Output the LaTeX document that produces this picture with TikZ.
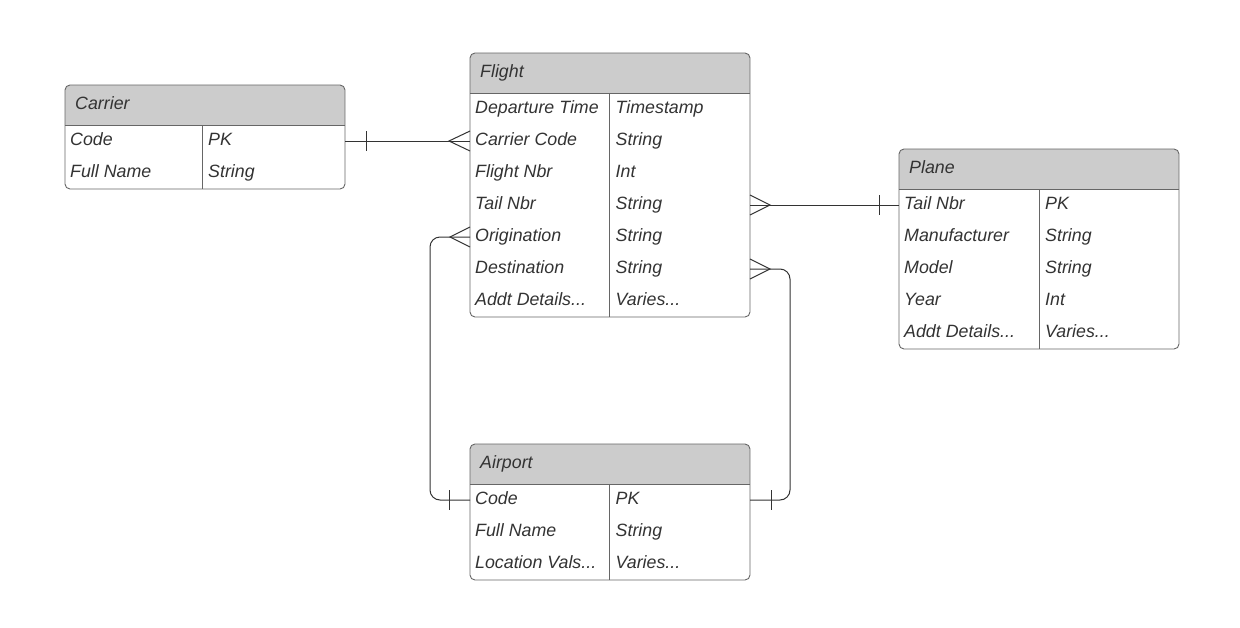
\documentclass[tikz,border=0pt]{standalone}
\usepackage{fontspec}
\setmainfont{Liberation Sans}
\tikzset{
  x=1pt, y=-1pt,
  boxline/.style={draw=black!60, line width=0.9pt},
  conn/.style={draw=black!80, line width=1pt},
  rowbox/.style={minimum width=280pt, minimum height=32pt, inner sep=0pt, outer sep=0pt},
  cell/.style={inner sep=0pt, text=black!80, font=\fontsize{17.8}{20}\selectfont\itshape},
}
\definecolor{hdrfill}{HTML}{CCCCCC}
% #1 name, #2 x, #3 y, #4 rows, #5 divider offset, #6 title
\newcommand\erbox[6]{%
  \pgfmathsetmacro\erH{40+32*#4}
  \begin{scope}
    \clip[rounded corners=5pt] (#2,#3) rectangle ++(280,\erH);
    \fill[white] (#2,#3) rectangle ++(280,\erH);
    \fill[hdrfill] (#2,#3) rectangle ++(280,40);
  \end{scope}
  \draw[boxline, rounded corners=5pt] (#2,#3) rectangle ++(280,\erH);
  \draw[boxline] ({#2},{#3+40}) -- ({#2+280},{#3+40});
  \draw[boxline] ({#2+#5},{#3+40}) -- ({#2+#5},{#3+\erH});
  \node[cell, anchor=base west] (#1) at ({#2+10},{#3+24}) {#6};
}
% #1 name, #2 x, #3 y, #4 index, #5 divider offset, #6 left, #7 right
\newcommand\errow[7]{%
  \node[rowbox] (#1-#4) at ({#2+140},{#3+40+32*#4-16}) {};
  \node[cell, anchor=base west] (#1-#4-l) at ({#2+5},{#3+40+32*#4-11.6}) {#6};
  \node[cell, anchor=base west] (#1-#4-r) at ({#2+#5+6},{#3+40+32*#4-11.6}) {#7};
}
\begin{document}
\begin{tikzpicture}
\fill[white] (0,0) rectangle (1240,627);
\useasboundingbox (0,0) rectangle (1240,627);

% Carrier
\erbox{carrier}{65}{85}{2}{137}{Carrier}
\errow{carrier}{65}{85}{1}{137}{Code}{PK}
\errow{carrier}{65}{85}{2}{137}{Full Name}{String}

% Flight
\erbox{flight}{470}{53}{7}{139.5}{Flight}
\errow{flight}{470}{53}{1}{139.5}{Departure Time}{Timestamp}
\errow{flight}{470}{53}{2}{139.5}{Carrier Code}{String}
\errow{flight}{470}{53}{3}{139.5}{Flight Nbr}{Int}
\errow{flight}{470}{53}{4}{139.5}{Tail Nbr}{String}
\errow{flight}{470}{53}{5}{139.5}{Origination}{String}
\errow{flight}{470}{53}{6}{139.5}{Destination}{String}
\errow{flight}{470}{53}{7}{139.5}{Addt Details...}{Varies...}

% Plane
\erbox{plane}{899}{149}{5}{140}{Plane}
\errow{plane}{899}{149}{1}{140}{Tail Nbr}{PK}
\errow{plane}{899}{149}{2}{140}{Manufacturer}{String}
\errow{plane}{899}{149}{3}{140}{Model}{String}
\errow{plane}{899}{149}{4}{140}{Year}{Int}
\errow{plane}{899}{149}{5}{140}{Addt Details...}{Varies...}

% Airport
\erbox{airport}{470}{444}{3}{139.5}{Airport}
\errow{airport}{470}{444}{1}{139.5}{Code}{PK}
\errow{airport}{470}{444}{2}{139.5}{Full Name}{String}
\errow{airport}{470}{444}{3}{139.5}{Location Vals...}{Varies...}

% Carrier -- Flight
\draw[conn] (carrier-1.east) -- (flight-2.west);
\draw[conn] ([xshift=21pt]carrier-1.east) ++(0,-10) -- ++(0,20);
\draw[conn] ([yshift=10pt]flight-2.west) -- ([xshift=-21pt]flight-2.west) -- ([yshift=-10pt]flight-2.west);

% Flight -- Plane
\draw[conn] (flight-4.east) -- (plane-1.west);
\draw[conn] ([xshift=-20pt]plane-1.west) ++(0,-10) -- ++(0,20);
\draw[conn] ([yshift=10pt]flight-4.east) -- ([xshift=20pt]flight-4.east) -- ([yshift=-10pt]flight-4.east);

% Flight Origination -- Airport
\draw[conn, rounded corners=10pt] (flight-5.west) -- ++(-40,0) |- (airport-1.west);
\draw[conn] ([yshift=10pt]flight-5.west) -- ([xshift=-20pt]flight-5.west) -- ([yshift=-10pt]flight-5.west);
\draw[conn] ([xshift=-21pt]airport-1.west) ++(0,-10) -- ++(0,20);

% Flight Destination -- Airport
\draw[conn, rounded corners=10pt] (flight-6.east) -- ++(40,0) |- (airport-1.east);
\draw[conn] ([yshift=10pt]flight-6.east) -- ([xshift=20pt]flight-6.east) -- ([yshift=-10pt]flight-6.east);
\draw[conn] ([xshift=21pt]airport-1.east) ++(0,-10) -- ++(0,20);
\end{tikzpicture}
\end{document}
